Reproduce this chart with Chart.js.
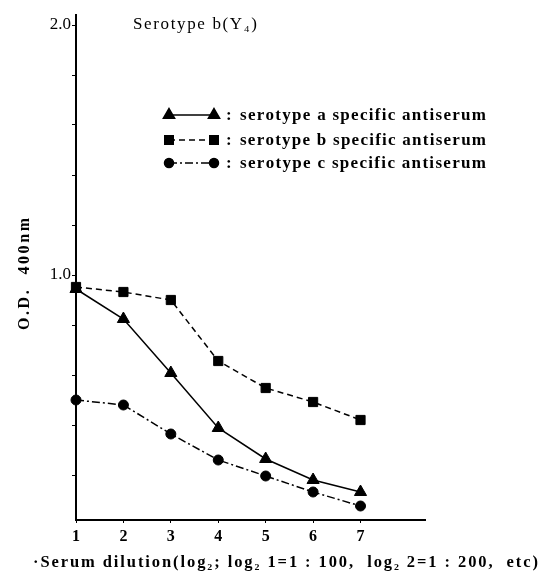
<!DOCTYPE html>
<html>
<head>
<meta charset="utf-8">
<script src="https://cdn.jsdelivr.net/npm/chart.js@4/dist/chart.umd.min.js"></script>
<style>
html,body{margin:0;padding:0;background:#fff;}
#wrap{position:relative;width:541px;height:582px;}
</style>
</head>
<body>
<div id="wrap"><canvas id="c" width="541" height="582"></canvas></div>
<script>
const dilutions = [1, 2, 3, 4, 5, 6, 7];
const serotypeA = [0.944, 0.824, 0.608, 0.388, 0.264, 0.18, 0.132];
const serotypeB = [0.952, 0.932, 0.90, 0.656, 0.548, 0.492, 0.42];
const serotypeC = [0.50, 0.48, 0.364, 0.26, 0.196, 0.132, 0.076];
const xTicks = [1, 2, 3, 4, 5, 6, 7];
const yTicks = [0.2, 0.4, 0.6, 0.8, 1.0, 1.2, 1.4, 1.6, 1.8, 2.0];
const yLabelled = ['1.0', '2.0'];
const seriesNames = ['serotype a specific antiserum', 'serotype b specific antiserum', 'serotype c specific antiserum'];
const chartTitle = 'Serotype b(Y\u2084)';
const yTitle = 'O.D.  400nm';
const xTitle = '\u00b7Serum dilution(log\u2082; log\u2082 1=1 : 100,  log\u2082 2=1 : 200,  etc)';

const SERIF = '"Liberation Serif", "DejaVu Serif", serif';
const toPts = arr => arr.map((v, i) => ({x: dilutions[i], y: v}));

const styles = [
  {shape: 'triangle', radius: 7, dash: []},
  {shape: 'rect', radius: 6.5, dash: [6, 4]},
  {shape: 'circle', radius: 5, dash: [8, 3, 2, 3]}
];

// draw text stretched with letter spacing to a target width
function drawFit(ctx, text, x, y, width) {
  const chars = Array.from(text);
  const natural = chars.reduce((s, ch) => s + ctx.measureText(ch).width, 0);
  const ls = chars.length > 1 ? (width - natural) / (chars.length - 1) : 0;
  let cx = x;
  chars.forEach(ch => {
    ctx.fillText(ch, cx, y);
    cx += ctx.measureText(ch).width + ls;
  });
}

const textPlugin = {
  id: 'texts',
  afterDraw(chart) {
    const ctx = chart.ctx;
    ctx.save();
    ctx.fillStyle = '#000';
    ctx.textBaseline = 'middle';
    ctx.textAlign = 'left';
    // title
    ctx.font = '17px ' + SERIF;
    drawFit(ctx, chartTitle, 133, 25, 124);
    // legend
    const ly = [115, 140, 163];
    ly.forEach((y, i) => {
      const st = styles[i];
      ctx.save();
      ctx.strokeStyle = '#000';
      ctx.lineWidth = 1.5;
      ctx.setLineDash(st.dash);
      ctx.beginPath();
      ctx.moveTo(169, y);
      ctx.lineTo(214, y);
      ctx.stroke();
      ctx.setLineDash([]);
      [169, 214].forEach(px => {
        Chart.helpers.drawPoint(ctx, {pointStyle: st.shape, radius: st.radius - 0.5, rotation: 0, borderWidth: 1}, px, y);
        ctx.fill();
      });
      ctx.restore();
      ctx.font = 'bold 17px ' + SERIF;
      ctx.fillText(':', 226, y + 1);
      ctx.font = 'bold 17px ' + SERIF;
      drawFit(ctx, seriesNames[i], 240, y + 1, 246);
    });
    // y title
    ctx.save();
    ctx.translate(25, 274);
    ctx.rotate(-Math.PI / 2);
    ctx.font = 'bold 16px ' + SERIF;
    const w = 112;
    drawFit(ctx, yTitle, -w / 2, 0, w);
    ctx.restore();
    // x title
    ctx.font = 'bold 16.5px ' + SERIF;
    drawFit(ctx, xTitle, 33, 563, 505);
    ctx.restore();
  }
};

new Chart(document.getElementById('c'), {
  type: 'line',
  data: {
    datasets: [serotypeA, serotypeB, serotypeC].map((d, i) => ({
      label: seriesNames[i],
      data: toPts(d),
      borderColor: '#000',
      backgroundColor: '#000',
      borderWidth: 1.5,
      borderDash: styles[i].dash,
      pointStyle: styles[i].shape,
      pointRadius: styles[i].radius,
      pointBorderWidth: 1,
      pointBackgroundColor: '#000',
      tension: 0,
      clip: false
    }))
  },
  options: {
    responsive: false,
    animation: false,
    layout: {padding: {left: 0, right: 116, top: 15, bottom: 0}},
    plugins: {legend: {display: false}, title: {display: false}, tooltip: {enabled: false}},
    scales: {
      x: {
        type: 'linear',
        min: 1,
        max: 8.36,
        afterBuildTicks: s => { s.ticks = xTicks.map(v => ({value: v})); },
        afterFit: s => { s.height = 62; },
        border: {display: true, color: '#000', width: 2},
        grid: {drawOnChartArea: false, drawTicks: true, tickLength: 3, color: '#000'},
        ticks: {
          color: '#000',
          font: {family: SERIF, size: 16, weight: 'bold'},
          padding: 4,
          maxRotation: 0,
          callback: v => String(v)
        }
      },
      y: {
        type: 'linear',
        min: 0.02,
        max: 2.04,
        afterBuildTicks: s => { s.ticks = yTicks.map(v => ({value: v})); },
        afterFit: s => { s.width = 76; },
        border: {display: true, color: '#000', width: 2},
        grid: {drawOnChartArea: false, drawTicks: true, tickLength: 4, color: '#000'},
        ticks: {
          color: '#000',
          font: {family: SERIF, size: 17},
          padding: 1,
          callback: v => { const s = Number(v).toFixed(1); return yLabelled.includes(s) ? s : ''; }
        }
      }
    }
  },
  plugins: [textPlugin]
});
</script>
</body>
</html>
